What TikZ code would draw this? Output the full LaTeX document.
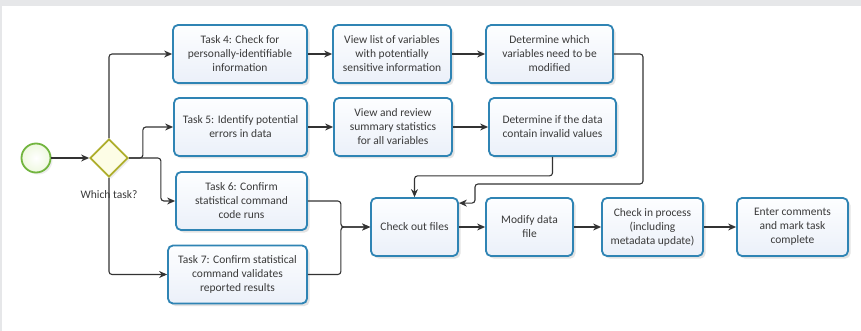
\documentclass[tikz,border=0pt]{standalone}
\usepackage{fontspec}
\setmainfont{Carlito}
\usetikzlibrary{arrows.meta,shadows,calc,shapes.geometric}
\definecolor{frame}{HTML}{E6E7E9}
\definecolor{boxedge}{HTML}{2F84B4}
\definecolor{boxtop}{HTML}{FDFEFF}
\definecolor{boxbot}{HTML}{EBF0F9}
\definecolor{gateedge}{HTML}{AEAE2C}
\definecolor{gatefill}{HTML}{FDFDE6}
\definecolor{startedge}{HTML}{72B53F}
\definecolor{startfill}{HTML}{EEF8DF}
\definecolor{ink}{HTML}{3A3A3A}
\definecolor{wire}{HTML}{333333}
\tikzset{
  task/.style={rectangle, rounded corners=5pt, draw=boxedge, line width=1.8pt,
    top color=boxtop, bottom color=boxbot, text=ink, align=center,
    inner sep=0pt, minimum height=58pt, font=\fontsize{11.5}{14}\selectfont,
    drop shadow={opacity=0.22, shadow xshift=2.5pt, shadow yshift=-2.5pt}},
  gate/.style={diamond, draw=gateedge, line width=1.8pt, fill=gatefill,
    inner sep=0pt, minimum width=38pt, minimum height=38pt,
    drop shadow={opacity=0.15, shadow xshift=2pt, shadow yshift=-2pt}},
  startev/.style={circle, draw=startedge, line width=1.8pt, inner color=white,
    outer color=startfill, minimum size=29pt, inner sep=0pt,
    drop shadow={opacity=0.15, shadow xshift=2pt, shadow yshift=-2pt}},
  flow/.style={draw=wire, line width=1.1pt, rounded corners=3pt,
    -{Stealth[length=8pt,width=7pt]}},
  lbl/.style={text=ink, font=\fontsize{11.5}{14}\selectfont}
}
\begin{document}
\begin{tikzpicture}[x=1pt,y=-1pt]
  % page frame
  \fill[frame] (0,0) rectangle (861,331);
  \fill[white] (2,6) rectangle (861,331);
  \useasboundingbox (0,0) rectangle (861,331);

  % events and gateway
  \node[startev] (start) at (36,158) {};
  \node[gate] (gw) at (109,158) {};
  \node[lbl] (gwl) at (109,195) {Which task?};

  % task column
  \node[task, minimum width=134pt] (t4) at (240,54) {Task 4: Check for\\personally-identifiable\\information};
  \node[task, minimum width=133pt] (t5) at (240.5,127) {Task 5: Identify potential\\errors in data};
  \node[task, minimum width=131pt] (t6) at (241.5,201) {Task 6: Confirm\\statistical command\\code runs};
  \node[task, minimum width=139pt] (t7) at (237.5,274.5) {Task 7: Confirm statistical\\command validates\\reported results};

  % follow-up steps
  \node[task, minimum width=118pt] (v1) at (392,54) {View list of variables\\with potentially\\sensitive information};
  \node[task, minimum width=118pt] (v2) at (393,127) {View and review\\summary statistics\\for all variables};
  \node[task, minimum width=127pt] (d1) at (549.5,54) {Determine which\\variables need to be\\modified};
  \node[task, minimum width=127pt] (d2) at (552.5,127) {Determine if the data\\contain invalid values};

  % main line
  \node[task, minimum width=87pt] (co) at (414.5,227) {Check out files};
  \node[task, minimum width=87pt] (md) at (529.5,227) {Modify data\\file};
  \node[task, minimum width=101pt] (ci) at (652.5,227) {Check in process\\(including\\metadata update)};
  \node[task, minimum width=111pt] (en) at (792.5,227) {Enter comments\\and mark task\\complete};

  % routing points
  \coordinate (r1) at (643,184);
  \coordinate (r2) at (475,184);
  \coordinate (cin) at ($(co.north east)+(0,6)$);

  % connectors
  \draw[flow] (start) -- (gw);
  \draw[flow] (gw.north) |- (t4.west);
  \draw[flow] (gw.east) -- ++(14,0) |- (t5.west);
  \draw[flow] (gw.east) -- ++(32,0) |- (t6.west);
  \draw[flow] (gw.south) |- (t7.west);
  \draw[flow] (t4) -- (v1);
  \draw[flow] (v1) -- (d1);
  \draw[flow] (t5) -- (v2);
  \draw[flow] (v2) -- (d2);
  \draw[flow] (d1.east) -| (r1) -- (r2) |- (cin);
  \draw[flow] (d2.south) -- ++(0,19) -| (co.north);
  \draw[flow] (t6.east) -- ++(33,0) |- (co.west);
  \draw[flow] (t7.east) -- ++(33,0) |- (co.west);
  \draw[flow] (co) -- (md);
  \draw[flow] (md) -- (ci);
  \draw[flow] (ci) -- (en);
\end{tikzpicture}
\end{document}
